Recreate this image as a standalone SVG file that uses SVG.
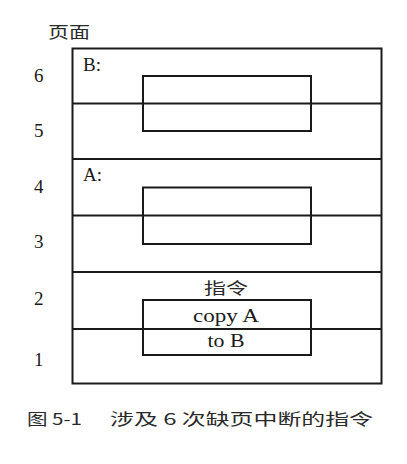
<svg xmlns="http://www.w3.org/2000/svg" width="407" height="464" viewBox="0 0 407 464">
<style>
.box{fill:none;stroke:#1a1a1a;stroke-width:2}
.ln{stroke:#1a1a1a;stroke-width:2}
.t{font-family:"Liberation Serif","Noto Sans CJK SC",serif;fill:#1a1a1a}
.num{font-size:19px}
.cj{font-family:"Noto Sans CJK SC","Liberation Serif",sans-serif;fill:#2a2a2a;font-size:16px}
</style>
<rect width="407" height="464" fill="#ffffff"/>
<g id="title"><text class="cj" x="48" y="38" font-size="17" textLength="42" lengthAdjust="spacingAndGlyphs">页面</text></g>
<g id="page-labels" class="t num">
<text x="34" y="82">6</text>
<text x="34" y="137">5</text>
<text x="34" y="193">4</text>
<text x="34" y="248">3</text>
<text x="34" y="305">2</text>
<text x="34" y="366">1</text>
</g>
<g id="memory">
<rect class="box" x="72.5" y="48.5" width="309" height="335"/>
<line class="ln" x1="72.5" y1="103.5" x2="381.5" y2="103.5"/>
<line class="ln" x1="72.5" y1="159" x2="381.5" y2="159"/>
<line class="ln" x1="72.5" y1="215.5" x2="381.5" y2="215.5"/>
<line class="ln" x1="72.5" y1="272" x2="381.5" y2="272"/>
<line class="ln" x1="72.5" y1="329" x2="381.5" y2="329"/>
</g>
<g id="B">
<text class="t" x="83" y="71" font-size="19">B:</text>
<rect class="box" x="143" y="76" width="168" height="55"/>
</g>
<g id="A">
<text class="t" x="83" y="181" font-size="19">A:</text>
<rect class="box" x="143" y="187.5" width="168" height="56.5"/>
</g>
<g id="instruction">
<text class="cj" x="226" y="294" text-anchor="middle" font-size="17" textLength="44" lengthAdjust="spacingAndGlyphs">指令</text>
<rect class="box" x="143" y="300" width="168" height="55"/>
<text class="t" x="226" y="322" text-anchor="middle" font-size="18" textLength="66" lengthAdjust="spacingAndGlyphs">copy A</text>
<text class="t" x="226" y="347" text-anchor="middle" font-size="18" textLength="37" lengthAdjust="spacingAndGlyphs">to B</text>
</g>
<g id="caption">
<text class="cj" x="27" y="425" font-size="16" textLength="55" lengthAdjust="spacingAndGlyphs">图 5-1</text>
<text class="cj" x="110" y="425" font-size="16" textLength="263" lengthAdjust="spacingAndGlyphs">涉及 6 次缺页中断的指令</text>
</g>
</svg>
